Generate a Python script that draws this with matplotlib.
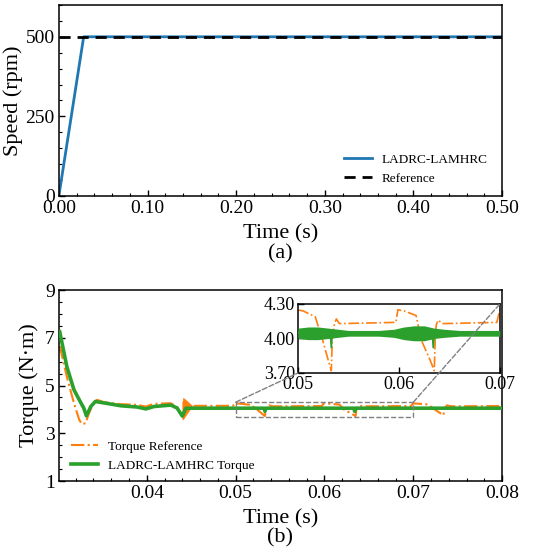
import numpy as np
import matplotlib
matplotlib.use("Agg")
import matplotlib.pyplot as plt
from matplotlib.patches import Rectangle, ConnectionPatch
from matplotlib.ticker import MultipleLocator, FormatStrFormatter

plt.rcParams['font.family'] = ['Liberation Serif', 'DejaVu Serif']
plt.rcParams['mathtext.fontset'] = 'stix'

# speed response (a)
speed_t = [0.0, 0.028, 0.5]
speed = [0, 500, 500]
ref_t = [0.0, 0.5]
ref_speed = [500, 500]

# torque reference (b)
tref_t = [0.0302, 0.0310, 0.0318, 0.0324, 0.0327, 0.0331, 0.0335, 0.0341, 0.0344, 0.0352,
          0.0370, 0.0389, 0.0399, 0.0408, 0.0427, 0.0434, 0.0440, 0.0451,
          0.0497, 0.0499, 0.0505, 0.0512, 0.0517, 0.0524, 0.0530, 0.0533, 0.0534, 0.0536,
          0.0538, 0.0541, 0.0545, 0.0597, 0.0599, 0.0605, 0.0617, 0.0622, 0.0631, 0.0635,
          0.0636, 0.0637, 0.0639, 0.0643, 0.0647, 0.0697, 0.0700, 0.0705, 0.0716, 0.0722,
          0.0730, 0.0734, 0.0735, 0.0738, 0.0741, 0.0745, 0.0797, 0.0799, 0.0800]
tref = [6.65, 5.37, 4.26, 3.56, 3.38, 3.42, 3.85, 4.33, 4.40, 4.30,
        4.22, 4.19, 4.12, 4.23, 4.26, 4.10, 3.70, 4.15,
        4.15, 4.25, 4.24, 4.21, 4.19, 4.00, 3.81, 3.72, 4.00, 4.12,
        4.17, 4.13, 4.13, 4.14, 4.25, 4.24, 4.20, 3.99, 3.81, 3.72,
        4.00, 4.12, 4.16, 4.13, 4.13, 4.14, 4.25, 4.24, 4.21, 4.05,
        3.85, 3.76, 4.05, 4.17, 4.14, 4.13, 4.14, 4.25, 4.25]

# oscillation burst of the reference around 0.044 s
burst_t = [0.0440, 0.0441, 0.0443, 0.0446, 0.0449, 0.0451]
burst_hi = [4.30, 4.48, 4.42, 4.32, 4.22, 4.15]
burst_lo = [3.60, 3.60, 3.72, 3.88, 4.03, 4.12]

# LADRC-LAMHRC torque
tq_t = [0.0302, 0.0310, 0.0318, 0.0326, 0.0329, 0.0332, 0.0337, 0.0342, 0.0352, 0.0371,
        0.0389, 0.0399, 0.0408, 0.0427, 0.0434, 0.0440, 0.0444, 0.0532, 0.0533, 0.0534,
        0.0633, 0.0634, 0.0635, 0.0800]
tq = [7.25, 5.79, 4.82, 4.26, 4.06, 3.73, 4.12, 4.33, 4.27, 4.15,
      4.10, 4.02, 4.12, 4.18, 4.06, 3.72, 4.05, 4.05, 3.92, 4.05,
      4.05, 3.92, 4.05, 4.05]

# ripple envelope of the torque in the zoomed window
band_t = [0.0500, 0.0510, 0.0520, 0.0530, 0.0540, 0.0550, 0.0560, 0.0580, 0.0595, 0.0605,
          0.0615, 0.0625, 0.0635, 0.0645, 0.0660, 0.0680, 0.0700]
band_hi = [4.09, 4.10, 4.10, 4.09, 4.08, 4.07, 4.07, 4.07, 4.08, 4.10,
           4.11, 4.11, 4.09, 4.08, 4.07, 4.07, 4.07]
band_lo = [4.00, 3.99, 3.99, 4.00, 4.01, 4.02, 4.02, 4.02, 4.01, 3.99,
           3.98, 3.98, 4.00, 4.01, 4.02, 4.02, 4.02]

c_blue = '#1f77b4'
c_orange = '#ff7f0e'
c_green = '#2ca02c'

fig = plt.figure(figsize=(5.5, 5.52), dpi=100)

def style(ax):
    ax.tick_params(which='both', direction='in', top=False, right=False,
                   labelsize=14, pad=3)
    ax.tick_params(which='major', length=4.5, width=1)
    ax.tick_params(which='minor', length=2.5, width=0.8)
    for s in ax.spines.values():
        s.set_linewidth(1.1)

# (a)
ax1 = fig.add_axes([0.107, 0.645, 0.806, 0.346])
ax1.plot(speed_t, speed, color=c_blue, lw=2, label='LADRC-LAMHRC')
ax1.plot(ref_t, ref_speed, color='black', lw=2, ls=(0, (4, 2.5)), label='Reference')
ax1.set_xlim(0, 0.5)
ax1.set_ylim(0, 600)
ax1.set_xticks([0, 0.1, 0.2, 0.3, 0.4, 0.5])
ax1.set_yticks([0, 250, 500])
ax1.xaxis.set_major_formatter(FormatStrFormatter('%.2f'))
ax1.xaxis.set_minor_locator(MultipleLocator(0.02))
ax1.yaxis.set_minor_locator(MultipleLocator(50))
style(ax1)
ax1.set_xlabel('Time (s)', fontsize=16, labelpad=5)
ax1.set_ylabel('Speed (rpm)', fontsize=16, labelpad=2)
ax1.legend(loc='lower right', frameon=False, fontsize=9.5, handlelength=2.1,
           handletextpad=0.75, labelspacing=0.55, bbox_to_anchor=(0.995, -0.005))
fig.text(0.51, 1 - 254 / 552, '(a)', ha='center', va='center', fontsize=16)

# (b)
ax2 = fig.add_axes([0.107, 0.1286, 0.806, 0.346])
ax2.plot(tref_t, tref, color=c_orange, lw=1.5, ls='-.', label='Torque Reference', zorder=2)
ax2.fill_between(burst_t, burst_lo, burst_hi, color=c_orange, lw=0.5, zorder=2)
ax2.plot(tq_t, tq, color=c_green, lw=2.6, label='LADRC-LAMHRC Torque', zorder=3)
ax2.set_xlim(0.0301, 0.08)
ax2.set_ylim(1, 9)
ax2.set_xticks([0.04, 0.05, 0.06, 0.07, 0.08])
ax2.set_yticks([1, 3, 5, 7, 9])
ax2.xaxis.set_major_formatter(FormatStrFormatter('%.2f'))
ax2.xaxis.set_minor_locator(MultipleLocator(0.002))
ax2.yaxis.set_minor_locator(MultipleLocator(0.5))
style(ax2)
ax2.set_xlabel('Time (s)', fontsize=16, labelpad=5)
ax2.set_ylabel('Torque (N·m)', fontsize=16, labelpad=4)
ax2.legend(loc='lower left', frameon=False, fontsize=9.5, handlelength=2.1,
           handletextpad=0.75, labelspacing=0.55, bbox_to_anchor=(0.0, -0.015))
fig.text(0.51, 1 - 538 / 552, '(b)', ha='center', va='center', fontsize=16)

rect = Rectangle((0.05, 3.7), 0.02, 0.6, fill=False, ec='gray', lw=1, ls='--', zorder=4)
ax2.add_patch(rect)

# inset
axi = fig.add_axes([0.5418, 0.3243, 0.367, 0.125])
axi.plot(tref_t, tref, color=c_orange, lw=1.2, ls='-.', zorder=2)
axi.fill_between(band_t, band_lo, band_hi, color=c_green, lw=0, zorder=3)
axi.plot(tq_t, tq, color=c_green, lw=1.2, zorder=3)
axi.set_xlim(0.05, 0.07)
axi.set_ylim(3.7, 4.3)
axi.set_xticks([0.05, 0.06, 0.07])
axi.set_yticks([3.7, 4.0, 4.3])
axi.yaxis.set_major_formatter(FormatStrFormatter('%.2f'))
style(axi)
axi.tick_params(labelsize=13, pad=2)

for xa, ya, xb, yb in [(0.05, 4.3, 0.05, 3.7), (0.07, 4.3, 0.07, 4.3)]:
    con = ConnectionPatch(xyA=(xa, ya), coordsA=ax2.transData,
                          xyB=(xb, yb), coordsB=axi.transData,
                          color='gray', lw=1, ls='--')
    fig.add_artist(con)

fig.savefig('out.png', dpi=100)
